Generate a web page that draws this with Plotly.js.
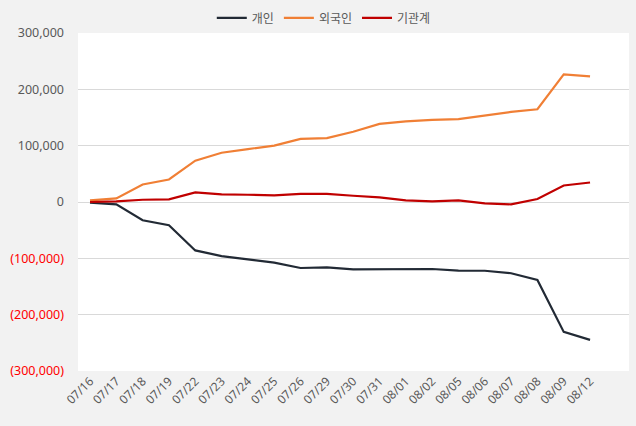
<!DOCTYPE html>
<html>
<head>
<meta charset="utf-8">
<script src="https://cdn.plot.ly/plotly-3.0.1.min.js"></script>
<style>html,body{margin:0;padding:0;background:#f2f2f2;}#chart{width:636px;height:426px;}</style>
</head>
<body>
<div id="chart"></div>
<script>
const dates = ["07/16","07/17","07/18","07/19","07/22","07/23","07/24","07/25","07/26","07/29","07/30","07/31","08/01","08/02","08/05","08/06","08/07","08/08","08/09","08/12"];
const individual = [-1000,-4200,-32500,-41300,-86000,-96000,-101800,-107700,-117200,-116000,-119500,-118900,-118900,-118900,-121800,-122000,-126500,-138300,-230600,-244800];
const foreign = [2800,6400,31000,40000,73400,87500,94000,100000,112000,113500,124600,138700,143000,145800,147000,153500,160000,164600,226400,222900];
const institution = [0,1000,4000,4600,17000,13400,12900,11700,14600,14600,11100,8200,2800,1000,2800,-2400,-4200,5300,29300,34600];
const seriesNames = ["개인","외국인","기관계"];
const yTickVals = [300000,200000,100000,0,-100000,-200000,-300000];
const yTickText = ["300,000","200,000","100,000","0",
  '<span style="color:#ff0000">(100,000)</span>',
  '<span style="color:#ff0000">(200,000)</span>',
  '<span style="color:#ff0000">(300,000)</span>'];

const font = "Noto Sans, Noto Sans CJK KR, sans-serif";
const traces = [
  {x: dates, y: individual, name: seriesNames[0], type: "scatter", mode: "lines", line: {color: "#222a35", width: 2.2}},
  {x: dates, y: foreign, name: seriesNames[1], type: "scatter", mode: "lines", line: {color: "#f07f35", width: 2.2}},
  {x: dates, y: institution, name: seriesNames[2], type: "scatter", mode: "lines", line: {color: "#c00000", width: 2.2}}
];
const layout = {
  width: 636, height: 426,
  paper_bgcolor: "#f2f2f2", plot_bgcolor: "#ffffff",
  margin: {l: 78, r: 7, t: 33, b: 55, autoexpand: false},
  font: {family: font, color: "#595959", size: 12},
  showlegend: true,
  legend: {orientation: "h", xref: "container", yref: "container", x: 0.333, xanchor: "left", y: 0.958, yanchor: "middle",
           font: {family: font, size: 12, color: "#595959"}, bgcolor: "rgba(0,0,0,0)", itemwidth: 30, tracegroupgap: 0},
  xaxis: {type: "category", range: [-0.456, 20.48], tickangle: -45, showgrid: false, zeroline: false,
          showline: false, ticks: "", tickfont: {family: font, size: 12, color: "#595959"}, fixedrange: true, automargin: false},
  yaxis: {range: [-300000, 300000], tickvals: yTickVals, ticktext: yTickText, showgrid: true, gridcolor: "#d9d9d9",
          gridwidth: 1, zeroline: false, showline: false, ticks: "", ticklabelstandoff: 13, automargin: false,
          tickfont: {family: font, size: 12.5, color: "#595959"}, fixedrange: true}
};
Plotly.newPlot("chart", traces, layout, {displayModeBar: false, staticPlot: true});
</script>
</body>
</html>
